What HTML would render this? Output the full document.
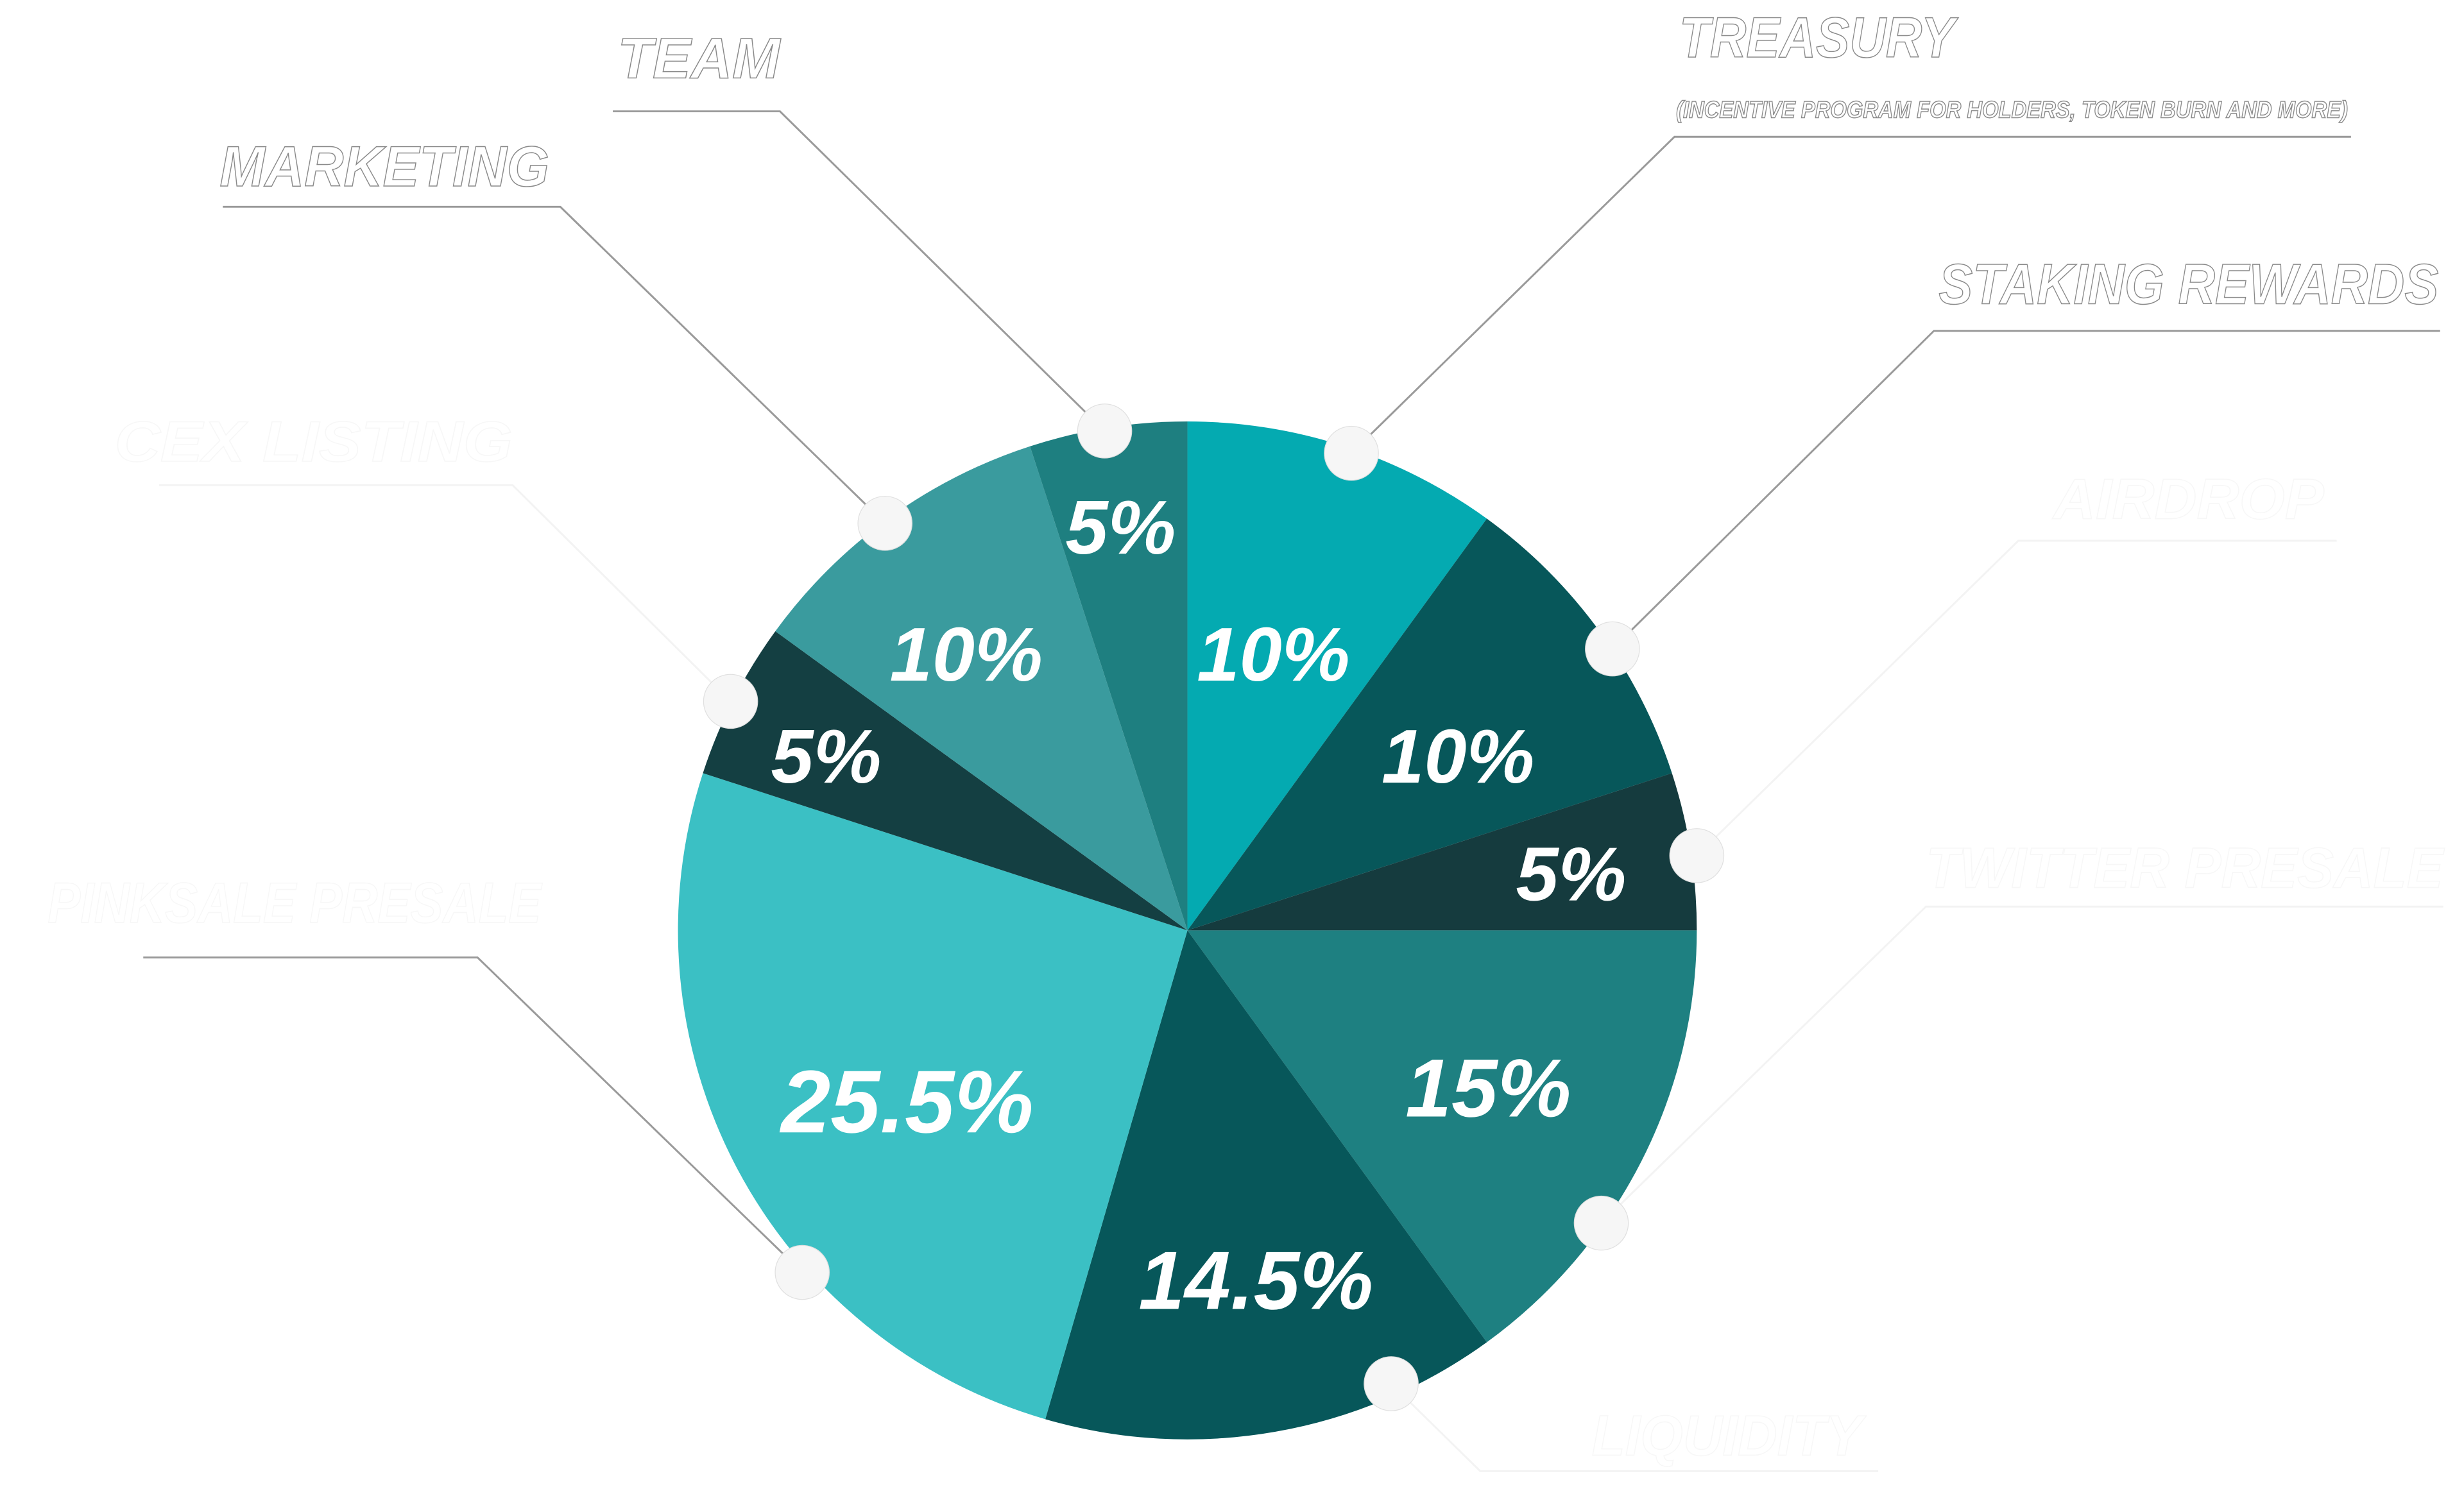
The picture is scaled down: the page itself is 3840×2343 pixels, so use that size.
<!DOCTYPE html>
<html><head><meta charset="utf-8"><style>
html,body{margin:0;padding:0;background:#fff;width:3840px;height:2343px;overflow:hidden}
svg{display:block}
.p{font-family:"Liberation Sans",sans-serif;font-weight:bold;font-style:italic;fill:#fff;text-anchor:middle}
.l{font-family:"Liberation Sans",sans-serif;font-weight:bold;font-style:italic;fill:#fff;stroke:#8a8a8a;stroke-width:0.6}
.ln{fill:none;stroke:#9a9a9a;stroke-width:1.2}
.lf{fill:none;stroke:#f3f3f3;stroke-width:1.2}
</style></head><body>
<svg width="3840" height="2343" viewBox="0 0 1548 945" preserveAspectRatio="none" xmlns="http://www.w3.org/2000/svg">
<rect width="1548" height="945" fill="#fff"/>
<path class="ln" d="M385 70 H490 L694 271"/>
<path class="ln" d="M140 130 H352 L556 329"/>
<path class="ln" d="M1477 86 H1052 L849 285"/>
<path class="ln" d="M1533 208 H1215 L1013 408"/>
<path class="lf" d="M1468 340 H1268 L1066 538"/>
<path class="lf" d="M1535 570 H1210 L1006 769"/>
<path class="lf" d="M100 305 H322 L459 441"/>
<path class="ln" d="M90 602 H300 L504 800"/>
<path class="lf" d="M1180 925 H930 L874 870"/>
<g>
<path d="M746 585 L746 265 A320 320 0 0 1 934.1 326.1 Z" fill="#04aab1"/>
<path d="M746 585 L934.1 326.1 A320 320 0 0 1 1050.4 486.1 Z" fill="#07575a"/>
<path d="M746 585 L1050.4 486.1 A320 320 0 0 1 1066 585 Z" fill="#153b3e"/>
<path d="M746 585 L1066 585 A320 320 0 0 1 934.1 843.9 Z" fill="#1e8081"/>
<path d="M746 585 L934.1 843.9 A320 320 0 0 1 656.7 892.3 Z" fill="#07575a"/>
<path d="M746 585 L656.7 892.3 A320 320 0 0 1 441.6 486.1 Z" fill="#3bc0c4"/>
<path d="M746 585 L441.6 486.1 A320 320 0 0 1 487.1 396.9 Z" fill="#143f42"/>
<path d="M746 585 L487.1 396.9 A320 320 0 0 1 647.1 280.6 Z" fill="#3a9b9e"/>
<path d="M746 585 L647.1 280.6 A320 320 0 0 1 746 265 Z" fill="#1e7f80"/>
</g>
<g fill="#f6f6f6" stroke="#e0e0e0" stroke-width="0.5">
<circle cx="694" cy="271" r="17"/><circle cx="849" cy="285" r="17"/>
<circle cx="1013" cy="408" r="17"/><circle cx="1066" cy="538" r="17"/>
<circle cx="1006" cy="769" r="17"/><circle cx="874" cy="870" r="17"/>
<circle cx="504" cy="800" r="17"/><circle cx="459" cy="441" r="17"/>
<circle cx="556" cy="329" r="17"/>
</g>
<text class="p" x="704" y="348" font-size="48">5%</text>
<text class="p" x="800" y="428" font-size="48">10%</text>
<text class="p" x="916" y="492" font-size="48">10%</text>
<text class="p" x="987" y="566" font-size="48">5%</text>
<text class="p" x="935" y="702" font-size="52">15%</text>
<text class="p" x="789" y="823" font-size="52">14.5%</text>
<text class="p" x="570" y="712" font-size="56">25.5%</text>
<text class="p" x="519" y="492" font-size="48">5%</text>
<text class="p" x="607" y="428" font-size="48">10%</text>
<text class="l" x="388" y="49" font-size="36" textLength="102" lengthAdjust="spacingAndGlyphs">TEAM</text>
<text class="l" x="138" y="117" font-size="36" textLength="207" lengthAdjust="spacingAndGlyphs">MARKETING</text>
<text class="l" x="1055" y="36" font-size="36" textLength="173" lengthAdjust="spacingAndGlyphs">TREASURY</text>
<text class="l" x="1053" y="74" font-size="15" textLength="422" lengthAdjust="spacingAndGlyphs">(INCENTIVE PROGRAM FOR HOLDERS, TOKEN BURN AND MORE)</text>
<text class="l" x="1218" y="191" font-size="36" textLength="314" lengthAdjust="spacingAndGlyphs">STAKING REWARDS</text>
<text class="l" x="1290" y="326" font-size="36" textLength="170" lengthAdjust="spacingAndGlyphs" style="stroke:#f7f7f7">AIRDROP</text>
<text class="l" x="1210" y="558" font-size="36" textLength="325" lengthAdjust="spacingAndGlyphs" style="stroke:#f7f7f7">TWITTER PRESALE</text>
<text class="l" x="72" y="290" font-size="36" textLength="250" lengthAdjust="spacingAndGlyphs" style="stroke:#f7f7f7">CEX LISTING</text>
<text class="l" x="30" y="580" font-size="36" textLength="310" lengthAdjust="spacingAndGlyphs" style="stroke:#f7f7f7">PINKSALE PRESALE</text>
<text class="l" x="1000" y="915" font-size="36" textLength="170" lengthAdjust="spacingAndGlyphs" style="stroke:#f7f7f7">LIQUIDITY</text>
</svg>
</body></html>
